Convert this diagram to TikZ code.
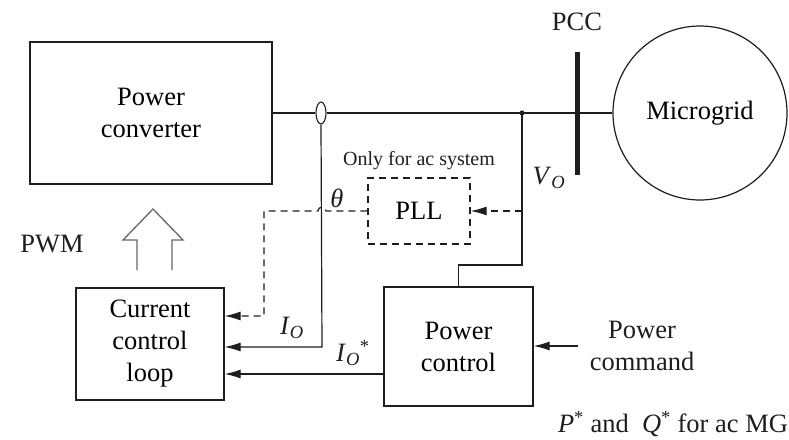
\documentclass[tikz,border=0pt]{standalone}
\usepackage{fontspec}
\setmainfont{Liberation Serif}
\usetikzlibrary{shapes.geometric,arrows.meta}
\definecolor{ink}{HTML}{1E1E1E}
\tikzset{
  blk/.style={draw=ink,line width=1.2pt,rectangle,align=center,font=\fontsize{26.5}{32}\selectfont,inner sep=0pt},
  wire/.style={draw=ink,line width=1.2pt},
  dwire/.style={draw=ink,line width=1.2pt,dash pattern=on 7pt off 5pt},
  arr/.style={-{Latex[length=16pt,width=9pt]}},
  lbl/.style={font=\fontsize{26.5}{32}\selectfont,text=ink,inner sep=0pt,align=center},
}
\begin{document}
\begin{tikzpicture}[x=1pt,y=-1pt]
\useasboundingbox (0,0) rectangle (789,439);
% blocks
\node[blk,minimum width=242pt,minimum height=142pt] (pc) at (151,113) {Power\\converter};
\node[blk,minimum width=148pt,minimum height=112pt] (ccl) at (150,344) {Current\\control\\loop};
\node[blk,minimum width=149pt,minimum height=119pt] (pwr) at (458.5,346.5) {Power\\control};
\node[blk,dwire,minimum width=102pt,minimum height=66pt] (pll) at (419,211) {PLL};
\node[blk,circle,minimum size=174pt] (mg) at (700,113) {Microgrid};
\node[draw=ink,line width=1.1pt,ellipse,minimum width=10pt,minimum height=22pt,inner sep=0pt] (ct) at (321,113) {};
% coordinates
\coordinate (jn) at (522,113);
\coordinate (pcct) at (577,52);
\coordinate (pccb) at (577,175);
\coordinate (cmd) at (578,346);
\coordinate (hopR) at (326,211);
\coordinate (dl) at (264,211);
% main line
\draw[wire] (pc.east |- ct) -- (ct.west);
\draw[wire] (ct.east) -- (jn) -- (mg.west);
\fill[ink] (jn) circle (2.6pt);
\draw[draw=ink,line width=5pt] (pcct) -- (pccb);
% I_O feedback
\draw[wire,arr] (ct.south) -- (322,347) -- (ccl.east |- 0,347);
% V_O to power control
\draw[wire] (jn) -- (522,265) -- (pwr.north |- 0,265) -- (pwr.north);
% V_O to PLL (dashed)
\draw[dwire,arr] (jn |- pll) -- (pll.east);
% theta
\draw[dwire,arr] (pll.west) -- (hopR) arc (0:-180:4) -- (dl) -- (264,316) -- (ccl.east |- 0,316);
% I_O*
\draw[wire,arr] (pwr.west |- 0,374) -- (ccl.east |- 0,374);
% power command
\draw[wire,arr] (cmd) -- (pwr.east |- cmd);
% hollow PWM arrow
\draw[draw=gray!80!black,line width=1.3pt] (137,270) -- (137,240) -- (123,240) -- (153,209) -- (183,240) -- (172,240) -- (172,270);
% labels
\node[lbl] (pcclbl) at (577,22) {PCC};
\node[lbl] (pwmlbl) at (52,244) {PWM};
\node[lbl,font=\fontsize{20}{24}\selectfont] (only) at (419,161) {Only for ac system};
\node[lbl] (th) at (337,198) {\textit{θ}};
\node[lbl] (vo) at (549,178) {\textit{V}\textsubscript{\textit{O}}};
\node[lbl] (io) at (292,328) {\textit{I}\textsubscript{\textit{O}}};
\node[lbl] (ios) at (353,353) {\textit{I}\textsubscript{\textit{O}}\textsuperscript{*}};
\node[lbl] (cmdlbl) at (642,346) {Power\\command};
\node[lbl] (pq) at (673,424) {\textit{P}\textsuperscript{*} and \ \textit{Q}\textsuperscript{*} for ac MG};
\end{tikzpicture}
\end{document}
